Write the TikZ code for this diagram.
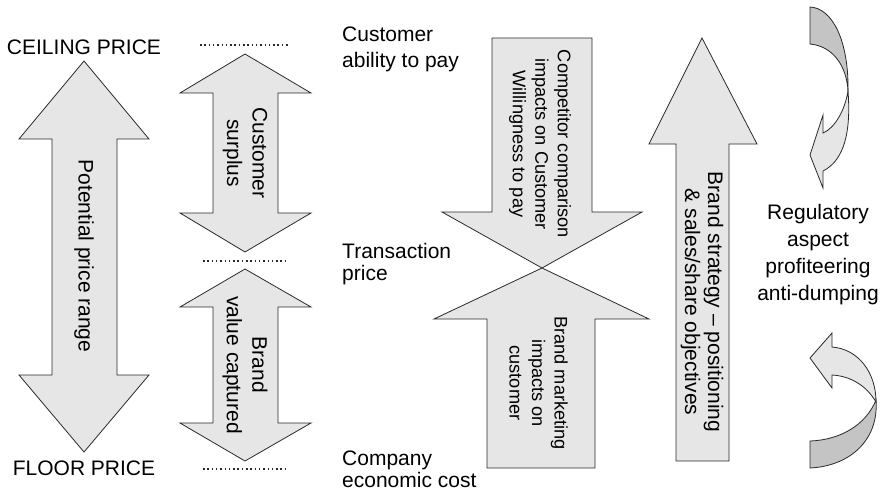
\documentclass[tikz,border=0pt]{standalone}
\usepackage{fontspec}
\setmainfont{Liberation Sans}
\definecolor{lightg}{HTML}{E6E6E6}
\definecolor{darkg}{HTML}{C4C4C4}
\definecolor{edge}{HTML}{2A2A2A}
\begin{document}
\begin{tikzpicture}[x=1pt,y=-1pt,
  arr/.style={fill=lightg, draw=edge, line width=0.8pt, line join=miter},
  dk/.style={fill=darkg, draw=edge, line width=0.8pt},
  lbl/.style={inner sep=0pt, text=black, font=\fontsize{21}{25.5}\selectfont},
  sml/.style={inner sep=0pt, text=black, font=\fontsize{18.2}{22.5}\selectfont},
  dots/.style={draw=edge, line width=1.5pt, dash pattern=on 1.5pt off 2.8pt}]
\useasboundingbox (0,0) rectangle (882,493);

% left big double arrow
\draw[arr] (84,61) -- (149,139) -- (117,139) -- (117,375) -- (149,375) -- (84,452)
  -- (19,375) -- (52,375) -- (52,139) -- (19,139) -- cycle;
% customer surplus
\draw[arr] (245,54) -- (311,93) -- (278,93) -- (278,213) -- (311,213) -- (245,252)
  -- (180,213) -- (213,213) -- (213,93) -- (180,93) -- cycle;
% brand value captured
\draw[arr] (245,269) -- (311,307) -- (278,307) -- (278,423) -- (311,423) -- (245,461)
  -- (180,423) -- (213,423) -- (213,307) -- (180,307) -- cycle;
% down arrow
\draw[arr] (492,38) -- (592,38) -- (592,212) -- (642,212) -- (542,268) -- (442,212) -- (492,212) -- cycle;
% up arrow
\draw[arr] (542,268) -- (649,319) -- (595,319) -- (595,468) -- (487,468) -- (487,319) -- (434,319) -- cycle;
% right up arrow
\draw[arr] (702,38) -- (757,144) -- (729,144) -- (729,461) -- (676,461) -- (676,144) -- (649,144) -- cycle;

% dotted lines
\coordinate (d1a) at (200,45); \coordinate (d1b) at (289,45);
\coordinate (d2a) at (203,261); \coordinate (d2b) at (288,261);
\coordinate (d3a) at (203,469); \coordinate (d3b) at (288,469);
\draw[dots] (d1a) -- (d1b);
\draw[dots] (d2a) -- (d2b);
\draw[dots] (d3a) -- (d3b);

% curved arrows
\draw[dk] (810,7) -- (810,44) .. controls (832,46) and (847,65) .. (848,92)
  .. controls (849,40) and (832,8) .. (810,7) -- cycle;
\draw[arr] (848,91) .. controls (845,110) and (835,128) .. (823,133) -- (823,115) -- (810,155)
  -- (823,188) -- (823,171) .. controls (845,160) and (851,130) .. (848,91) -- cycle;
\draw[arr] (810,358) -- (832,333) -- (832,347) .. controls (858,349) and (876,372) .. (876,402)
  .. controls (866,385) and (850,376) .. (832,375) -- (832,388) -- cycle;
\draw[dk] (876,400) .. controls (879,440) and (850,466) .. (810,468) -- (810,441)
  .. controls (840,440) and (866,425) .. (876,400) -- cycle;

% labels
\node[lbl] (ceil) at (84,47) {CEILING PRICE};
\node[lbl] (floor) at (84,468) {FLOOR PRICE};
\node[lbl, rotate=-90] (ppr) at (84,256) {Potential price range};
\node[lbl, rotate=-90, align=center] (cs) at (245,153) {Customer\\surplus};
\node[lbl, rotate=-90, align=center] (bvc) at (245,365) {Brand\\value captured};
\node[lbl, font=\fontsize{21}{26.3}\selectfont, align=left, anchor=west] (cap) at (342,49.3) {Customer\\ability to pay};
\node[lbl, font=\fontsize{21}{21.5}\selectfont, align=left, anchor=west] (tp) at (342,264) {Transaction\\price};
\node[lbl, font=\fontsize{21}{22}\selectfont, align=left, anchor=west] (cec) at (342,469.4) {Company\\economic cost};
\node[sml, rotate=-90, align=center] (comp) at (540,144) {Competitor comparison\\impacts on Customer\\Willingness to pay};
\node[sml, rotate=-90, align=center] (bm) at (538.5,383) {Brand marketing\\impacts on\\customer};
\node[lbl, font=\fontsize{21}{23}\selectfont, rotate=-90, align=center] (bs) at (702,302) {Brand strategy -- positioning\\\& sales/share objectives};
\node[lbl, font=\fontsize{21}{27}\selectfont, align=center] (reg) at (818,254.5) {Regulatory\\aspect\\profiteering\\anti-dumping};
\end{tikzpicture}
\end{document}
